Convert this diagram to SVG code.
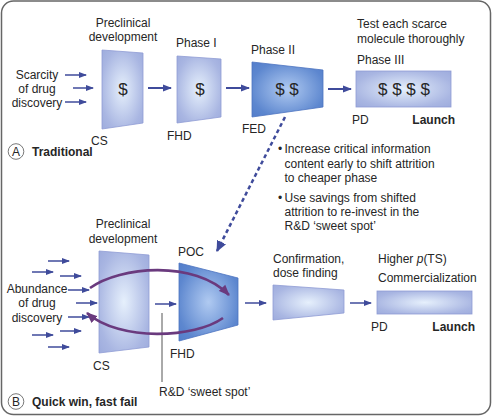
<svg xmlns="http://www.w3.org/2000/svg" width="492" height="416" viewBox="0 0 492 416">
<style>
text{font-family:"Liberation Sans Narrow","Arial Narrow","Liberation Sans",Arial,sans-serif;font-size:12px;fill:#262626}
.b{font-weight:bold}
.m{text-anchor:middle}
.e{text-anchor:end}
.d{font-size:17px;text-anchor:middle}
.lt{fill:url(#gl);stroke:#8f9cd4;stroke-width:0.8}
.dk{fill:url(#gd);stroke:#4c74c0;stroke-width:0.8}
.a1{stroke:#3f4b9b;stroke-width:2;fill:none;marker-end:url(#ha)}
.a2{stroke:#3f4b9b;stroke-width:1.5;fill:none;marker-end:url(#hs)}
.pu{stroke:#6a3a7e;stroke-width:2.6;fill:none;marker-end:url(#hp)}
</style>
<defs>
<radialGradient id="gl" cx="0.5" cy="0.5" r="0.7"><stop offset="0" stop-color="#e6f0fc"/><stop offset="0.75" stop-color="#a9b6e2"/><stop offset="1" stop-color="#9eacdd"/></radialGradient>
<radialGradient id="gd" cx="0.5" cy="0.5" r="0.7"><stop offset="0" stop-color="#b0caf1"/><stop offset="0.75" stop-color="#5d87cf"/><stop offset="1" stop-color="#537ecb"/></radialGradient>
<marker id="ha" markerUnits="userSpaceOnUse" markerWidth="9" markerHeight="8" refX="8" refY="4" orient="auto"><path d="M0,0.5 L9,4 L0,7.5 z" fill="#3f4b9b"/></marker>
<marker id="hs" markerUnits="userSpaceOnUse" markerWidth="8" markerHeight="7" refX="7" refY="3.5" orient="auto"><path d="M0,0.5 L8,3.5 L0,6.5 z" fill="#3f4b9b"/></marker>
<marker id="hp" markerUnits="userSpaceOnUse" markerWidth="12" markerHeight="10" refX="10" refY="5" orient="auto"><path d="M0,0.5 L11,5 L0,9.5 z" fill="#6a3a7e"/></marker>
<marker id="hd" markerUnits="userSpaceOnUse" markerWidth="12" markerHeight="11" refX="10" refY="5.5" orient="auto"><path d="M0,0.5 L11,5.5 L0,10.5 z" fill="#3f4b9b"/></marker>
</defs>
<rect x="1.5" y="1" width="489" height="413.5" rx="12" fill="#fff" stroke="#666" stroke-width="1.5"/>

<g id="sectionA-label">
<circle cx="16" cy="151.5" r="7.8" fill="#fff" stroke="#555" stroke-width="0.8"/>
<text x="16" y="155.5" class="m">A</text>
<text x="32" y="156" class="b">Traditional</text>
</g>
<g id="scarcity">
<text x="37" y="79" class="m">Scarcity</text>
<text x="37" y="93" class="m">of drug</text>
<text x="37" y="107" class="m">discovery</text>
</g>
<g id="preclinicalA">
<text x="123" y="27" class="m">Preclinical</text>
<text x="123" y="41" class="m">development</text>
<polygon class="lt" points="102,50 143,53 143,123 102,129"/>
<text x="123" y="95" class="d">$</text>
<text x="91" y="145">CS</text>
</g>
<g id="phase1A">
<text x="176" y="47">Phase I</text>
<polygon class="lt" points="177,56 221,59 221,117 177,123"/>
<text x="200" y="95" class="d">$</text>
<text x="167" y="140">FHD</text>
</g>
<g id="phase2A">
<text x="251" y="54">Phase II</text>
<polygon class="dk" points="252,62 323,70 323,107 252,117"/>
<text x="287" y="95" class="d">$ $</text>
<text x="242" y="133">FED</text>
</g>
<g id="phase3A">
<text x="357" y="28">Test each scarce</text>
<text x="357" y="43">molecule thoroughly</text>
<text x="357" y="64">Phase III</text>
<rect class="lt" x="356" y="71" width="95" height="36"/>
<text x="404" y="95" class="d">$ $ $ $</text>
<text x="352" y="124">PD</text>
<text x="455" y="124" class="b e">Launch</text>
</g>
<g id="bullets">
<text x="278" y="153">•</text><text x="284.5" y="153">Increase critical information</text>
<text x="284.5" y="168">content early to shift attrition</text>
<text x="284.5" y="182">to cheaper phase</text>
<text x="278" y="202">•</text><text x="284.5" y="202">Use savings from shifted</text>
<text x="284.5" y="216">attrition to re-invest in the</text>
<text x="284.5" y="230">R&amp;D ‘sweet spot’</text>
</g>

<g id="sectionB-label">
<circle cx="16" cy="401.5" r="7.8" fill="#fff" stroke="#555" stroke-width="0.8"/>
<text x="16" y="405.5" class="m">B</text>
<text x="32" y="406" class="b">Quick win, fast fail</text>
</g>
<g id="abundance">
<text x="37" y="293" class="m">Abundance</text>
<text x="37" y="307" class="m">of drug</text>
<text x="37" y="322" class="m">discovery</text>
</g>
<g id="preclinicalB">
<text x="123" y="228" class="m">Preclinical</text>
<text x="123" y="243" class="m">development</text>
<polygon class="lt" points="99,251 149,255 149,347 99,353"/>
<text x="93" y="370">CS</text>
</g>
<g id="pocB">
<text x="178" y="256">POC</text>
<polygon class="dk" points="179,263 238,278 238,325 179,341"/>
<text x="170" y="358">FHD</text>
</g>
<g id="sweetspot">
<line x1="162" y1="313" x2="162" y2="382" stroke="#555" stroke-width="1"/>
<text x="159" y="396">R&amp;D ‘sweet spot’</text>
</g>
<g id="confirmationB">
<text x="273" y="263">Confirmation,</text>
<text x="273" y="277">dose finding</text>
<polygon class="lt" points="273,285 344,290 344,313 273,320"/>
</g>
<g id="commercialB">
<text x="378" y="263">Higher <tspan font-style="italic">p</tspan>(TS)</text>
<text x="378" y="282">Commercialization</text>
<rect class="lt" x="377" y="291" width="95" height="23"/>
<text x="371" y="331">PD</text>
<text x="475" y="331" class="b e">Launch</text>
</g>

<g id="connectors">
<line class="a2" x1="65" y1="75" x2="86" y2="75"/>
<line class="a2" x1="73" y1="88" x2="93" y2="88"/>
<line class="a2" x1="65" y1="102" x2="86" y2="102"/>
<line class="a1" x1="148" y1="88" x2="171" y2="88"/>
<line class="a1" x1="226" y1="88" x2="249" y2="88"/>
<line class="a1" x1="328" y1="89" x2="351" y2="89"/>
<line x1="285" y1="117" x2="217" y2="251" stroke="#3f4b9b" stroke-width="2.5" stroke-dasharray="4,3" marker-end="url(#hd)"/>
<line class="a2" x1="48" y1="261" x2="69" y2="261"/>
<line class="a2" x1="32" y1="272" x2="53" y2="272"/>
<line class="a2" x1="60" y1="276" x2="81" y2="276"/>
<line class="a2" x1="68" y1="290" x2="89" y2="290"/>
<line class="a2" x1="76" y1="303" x2="97" y2="303"/>
<line class="a2" x1="68" y1="317" x2="89" y2="317"/>
<line class="a2" x1="60" y1="331" x2="81" y2="331"/>
<line class="a2" x1="32" y1="335" x2="53" y2="335"/>
<line class="a2" x1="48" y1="347" x2="69" y2="347"/>
<line class="a2" x1="155" y1="304" x2="176" y2="304"/>
<line class="a2" x1="245" y1="303" x2="266" y2="303"/>
<line class="a2" x1="350" y1="303" x2="371" y2="303"/>
<path class="pu" d="M90,288 C120,266 195,260 229,295"/>
<path class="pu" d="M223,318 C195,338 120,342 87,313"/>
</g>
</svg>
